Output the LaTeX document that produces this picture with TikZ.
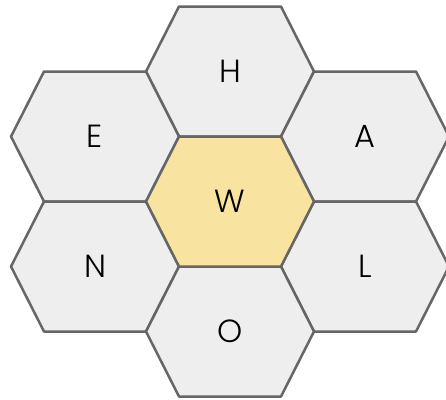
\documentclass[tikz,border=0pt]{standalone}
\usepackage{fontspec}
\setmainfont{Poppins}[UprightFont={* Light}]
\usepackage{xcolor}
\usepackage{tikz}
\definecolor{cellGray}{HTML}{EEEEEE}
\definecolor{cellCenter}{HTML}{F8E4A0}
\definecolor{cellEdge}{HTML}{666666}

\begin{document}
\begin{tikzpicture}[
  x=1pt, y=-1pt,
  cell/.style={draw=cellEdge, fill=cellGray, line width=2.5pt, line join=round},
  letter/.style={font=\fontsize{32}{38}\selectfont, inner sep=0pt}
]
\useasboundingbox (0,0) rectangle (446,399);
% outer ring of cells
\foreach \n/\x/\y in {H/230/71.5, E/95/136.5, A/365/136.5, N/95/266.5, L/365/266.5, O/230/331.5}
{
  \draw[cell, shift={(\x,\y)}] (-84,0) -- (-51,-65) -- (51,-65) -- (84,0) -- (51,65) -- (-51,65) -- cycle;
  \node[letter] (\n) at (\x,\y) {\n};
}
% centre cell
\draw[cell, fill=cellCenter, shift={(230,201.5)}] (-84,0) -- (-51,-65) -- (51,-65) -- (84,0) -- (51,65) -- (-51,65) -- cycle;
\node[letter] (W) at (230,201.5) {W};
\end{tikzpicture}
\end{document}
